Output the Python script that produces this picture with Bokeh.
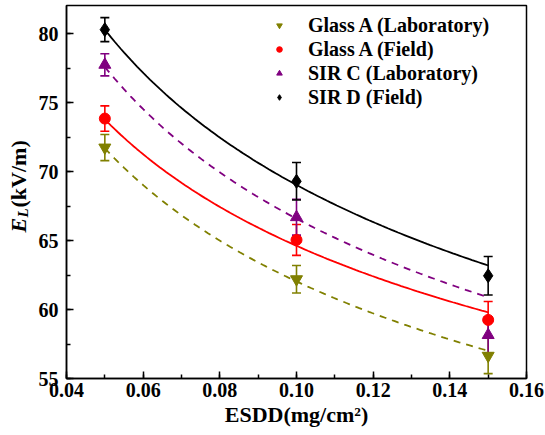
import numpy as np
from bokeh.plotting import figure
from bokeh.layouts import row
from bokeh.models import (ColumnDataSource, Whisker, TeeHead, Legend, LegendItem,
                          SingleIntervalTicker, Range1d, Label)
from bokeh.embed import file_html
from bokeh.resources import INLINE

# ---------------- data ----------------
esdd = [0.05, 0.10, 0.15]

glass_a_lab = [71.75, 62.2, 56.65]
glass_a_lab_err = [0.95, 1.0, 1.3]

glass_a_field = [73.85, 65.05, 59.25]
glass_a_field_err = [0.92, 1.12, 1.33]

sir_c_lab = [77.75, 66.7, 58.15]
sir_c_lab_err = [0.8, 1.3, 1.3]

sir_d_field = [80.3, 69.3, 62.45]
sir_d_field_err = [0.87, 1.36, 1.4]

# power-law fit curves E = A * ESDD^(-n), parameters
fit_A = {"glass_a_lab": 38.36, "glass_a_field": 41.59, "sir_c_lab": 40.07, "sir_d_field": 41.79}
fit_n = {"glass_a_lab": 0.2088, "glass_a_field": 0.1914, "sir_c_lab": 0.2206, "sir_d_field": 0.218}

series_names = ["Glass A (Laboratory)", "Glass A (Field)", "SIR C (Laboratory)", "SIR D (Field)"]
x_ticks = [0.04, 0.06, 0.08, 0.10, 0.12, 0.14, 0.16]
y_ticks = [55, 60, 65, 70, 75, 80]

FONT = "Liberation Serif"
LEFT_W = 34

# ---------------- narrow panel holding the y-axis title E_L(kV/m) ----------------
pl = figure(width=LEFT_W, height=435, output_backend="svg", toolbar_location=None,
            x_range=Range1d(0, LEFT_W), y_range=Range1d(0, 435),
            min_border=0, min_border_left=0, min_border_right=0,
            min_border_top=0, min_border_bottom=0)
pl.axis.visible = False
pl.grid.visible = False
pl.outline_line_color = None
pl.background_fill_color = "white"
pl.border_fill_color = "white"
ang = np.pi / 2
pl.add_layout(Label(x=18, y=146, x_units="screen", y_units="screen", text="E", angle=ang,
                    text_font=FONT, text_font_style="bold italic", text_font_size="22px",
                    text_align="left", text_baseline="alphabetic", text_color="black"))
pl.add_layout(Label(x=22, y=161, x_units="screen", y_units="screen", text="L", angle=ang,
                    text_font=FONT, text_font_style="bold italic", text_font_size="15px",
                    text_align="left", text_baseline="alphabetic", text_color="black"))
pl.add_layout(Label(x=18, y=171, x_units="screen", y_units="screen", text="(kV/m)", angle=ang,
                    text_font=FONT, text_font_style="bold", text_font_size="22px",
                    text_align="left", text_baseline="alphabetic", text_color="black"))

# ---------------- main plot ----------------
p = figure(width=545 - LEFT_W, height=435, output_backend="svg", toolbar_location=None,
           x_range=Range1d(0.04, 0.16), y_range=Range1d(55, 82.05),
           min_border_left=66 - LEFT_W, min_border_right=19, min_border_top=5, min_border_bottom=57)
p.grid.visible = False
p.background_fill_color = "white"
p.border_fill_color = "white"
p.outline_line_color = "black"
p.outline_line_width = 1.5

p.xaxis.ticker = SingleIntervalTicker(interval=0.02, num_minor_ticks=2)
p.yaxis.ticker = SingleIntervalTicker(interval=5, num_minor_ticks=2)
p.xaxis.major_label_overrides = {t: f"{t:.2f}" for t in x_ticks}
for ax in (p.xaxis[0], p.yaxis[0]):
    ax.axis_line_width = 1.5
    ax.major_tick_line_width = 1.5
    ax.minor_tick_line_width = 1.5
    ax.major_tick_in = 7
    ax.major_tick_out = 0
    ax.minor_tick_in = 4
    ax.minor_tick_out = 0
    ax.major_label_text_font = FONT
    ax.major_label_text_font_style = "bold"
    ax.major_label_text_font_size = "20px"
    ax.major_label_text_color = "black"
    ax.axis_label_text_font = FONT
    ax.axis_label_text_font_style = "bold"
    ax.axis_label_text_font_size = "22px"
    ax.axis_label_text_color = "black"
p.xaxis.major_label_standoff = 4
p.yaxis.major_label_standoff = 8
p.xaxis.axis_label = "ESDD(mg/cm\u00b2)"
p.xaxis.axis_label_standoff = 2
p.yaxis.axis_label = None

# ---------------- curves ----------------
xf = np.linspace(esdd[0], esdd[-1], 120)
styles = [
    ("glass_a_lab", "#808000", "7 6"),
    ("glass_a_field", "#ff0000", "solid"),
    ("sir_c_lab", "#800080", "7 6"),
    ("sir_d_field", "#000000", "solid"),
]
for key, col, dash in styles:
    yf = fit_A[key] * xf ** (-fit_n[key])
    p.line(xf, yf, line_color=col, line_width=1.8, line_dash=dash)

# ---------------- points + error bars ----------------
pts = [
    (glass_a_lab, glass_a_lab_err, "#808000", "inverted_triangle", 12),
    (glass_a_field, glass_a_field_err, "#ff0000", "circle", 11),
    (sir_c_lab, sir_c_lab_err, "#800080", "triangle", 12),
    (sir_d_field, sir_d_field_err, "#000000", "diamond", 14),
]
legend_items = []
for (vals, errs, col, mk, sz), name in zip(pts, series_names):
    src = ColumnDataSource(dict(x=esdd, y=vals,
                                lo=[v - e for v, e in zip(vals, errs)],
                                hi=[v + e for v, e in zip(vals, errs)]))
    w = Whisker(source=src, base="x", upper="hi", lower="lo", line_color=col, line_width=1.6,
                upper_head=TeeHead(size=9, line_color=col, line_width=1.6),
                lower_head=TeeHead(size=9, line_color=col, line_width=1.6))
    p.add_layout(w)
    p.scatter("x", "y", source=src, marker=mk, size=sz, fill_color=col, line_color=col)
    dummy = p.scatter(x=[float("nan")], y=[float("nan")], marker=mk, size=sz * 0.8,
                      fill_color=col, line_color=col)
    legend_items.append(LegendItem(label=name, renderers=[dummy], index=0))

legend = Legend(items=legend_items, location=(206, 269), orientation="vertical",
                glyph_width=14, glyph_height=24, label_height=24, label_standoff=22,
                spacing=0, padding=0, margin=0, border_line_color=None,
                background_fill_alpha=0,
                label_text_font=FONT, label_text_font_style="bold",
                label_text_font_size="20px", label_text_color="black")
p.add_layout(legend)

layout = row(pl, p, spacing=0)
open("out.html", "w").write(file_html(layout, INLINE))
